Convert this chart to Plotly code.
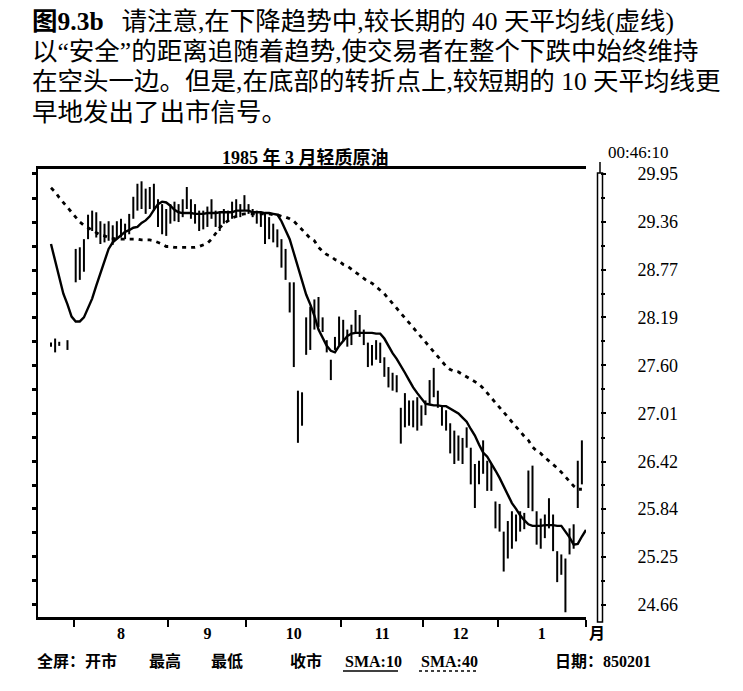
import plotly.graph_objects as go

# ---------------- data ----------------
# daily high / low of the March 1985 light crude contract (bar index = trading day)
bar_high = [27.88, 27.93, 27.89, None, 27.91, None, 29.03, 29.05, 29.15, 29.45,
            29.50, 29.48, 29.37, 29.34, 29.37, 29.32, 29.37, 29.40, 29.34, 29.46,
            29.67, 29.83, 29.86, 29.77, 29.79, 29.83, 29.64, 29.58, 29.52, 29.58,
            29.61, 29.58, 29.64, 29.79, 29.64, 29.58, 29.50, 29.50, 29.55, 29.64,
            29.50, 29.48, 29.52, 29.50, 29.61, 29.64, 29.58, 29.69, 29.58, 29.52,
            29.50, 29.48, 29.46, 29.42, 29.34, 29.27, 29.15, 29.03, 28.62, 28.62,
            27.29, 27.27, 28.19, 28.32, 28.41, 28.44, 28.19, 27.91, 27.67, 27.95,
            28.20, 28.16, 28.04, 28.10, 28.28, 28.22, 28.04, 27.88, 27.85, 27.91,
            27.88, 27.70, 27.58, 27.51, 27.48, 27.08, 27.26, 27.17, 27.17, 27.21,
            27.11, 27.17, 27.42, 27.57, 27.29, 27.11, 27.05, 26.89, 26.80, 26.74,
            26.71, 26.84, 26.59, 26.39, 26.43, 26.68, 26.43, 26.39, 25.93, 25.90,
            25.56, 25.69, 25.81, 25.77, 25.81, 25.79, 26.31, 26.37, 25.81, 25.72,
            25.77, 25.97, 25.77, 25.32, 25.28, 25.23, 25.60, 25.65, 26.43, 26.68]
bar_low = [27.83, 27.76, 27.84, None, 27.79, None, 28.62, 28.65, 28.75, 29.15,
           29.25, 29.17, 29.09, 29.11, 29.13, 29.08, 29.15, 29.17, 29.15, 29.21,
           29.40, 29.50, 29.52, 29.46, 29.52, 29.50, 29.30, 29.21, 29.19, 29.34,
           29.37, 29.36, 29.42, 29.52, 29.40, 29.34, 29.25, 29.27, 29.30, 29.40,
           29.30, 29.25, 29.34, 29.37, 29.40, 29.43, 29.42, 29.50, 29.46, 29.42,
           29.34, 29.30, 29.09, 29.15, 29.11, 29.05, 28.80, 28.65, 28.25, 27.58,
           26.65, 26.86, 27.73, 27.79, 28.04, 28.07, 28.01, 27.76, 27.42, 27.79,
           27.85, 27.89, 27.83, 27.85, 28.00, 27.95, 27.85, 27.58, 27.60, 27.67,
           27.63, 27.46, 27.33, 27.29, 27.27, 26.64, 26.84, 26.86, 26.84, 26.80,
           26.86, 26.99, 27.13, 27.21, 27.08, 26.86, 26.80, 26.52, 26.39, 26.43,
           26.39, 26.59, 26.14, 25.85, 26.14, 26.27, 26.06, 26.06, 25.60, 25.56,
           25.07, 25.23, 25.35, 25.44, 25.56, 25.59, 25.85, 25.81, 25.40, 25.35,
           25.48, 25.60, 25.32, 24.94, 25.03, 24.57, 25.28, 25.35, 25.85, 26.14]

# 10-day simple moving average (solid line)
sma10 = [29.09, 28.88, 28.68, 28.48, 28.35, 28.20, 28.14, 28.14, 28.19, 28.30,
         28.42, 28.58, 28.73, 28.88, 29.03, 29.11, 29.15, 29.20, 29.24, 29.26,
         29.29, 29.30, 29.35, 29.38, 29.43, 29.51, 29.58, 29.61, 29.60, 29.56,
         29.51, 29.48, 29.47, 29.47, 29.47, 29.46, 29.46, 29.46, 29.47, 29.47,
         29.47, 29.48, 29.48, 29.48, 29.48, 29.50, 29.50, 29.50, 29.50, 29.48,
         29.48, 29.48, 29.47, 29.47, 29.46, 29.45, 29.37, 29.27, 29.15, 28.98,
         28.80, 28.63, 28.47, 28.35, 28.21, 28.04, 27.93, 27.84, 27.78, 27.76,
         27.84, 27.90, 27.96, 27.99, 28.00, 28.00, 28.00, 28.00, 28.00, 27.99,
         27.99, 27.93, 27.83, 27.75, 27.68, 27.60, 27.51, 27.42, 27.33, 27.26,
         27.20, 27.13, 27.12, 27.11, 27.11, 27.10, 27.10, 27.07, 27.05, 27.01,
         26.96, 26.91, 26.82, 26.74, 26.63, 26.53, 26.48, 26.40, 26.31, 26.22,
         26.11, 26.00, 25.91, 25.84, 25.76, 25.70, 25.65, 25.63, 25.63, 25.63,
         25.64, 25.64, 25.64, 25.63, 25.63, 25.56, 25.49, 25.40, 25.41, 25.50,
         25.58]

# 40-day simple moving average (dotted line)
sma40 = [29.78, 29.73, 29.66, 29.60, 29.53, 29.47, 29.41, 29.36, 29.32, 29.29,
         29.26, 29.22, 29.20, 29.19, 29.17, 29.16, 29.15, 29.15, 29.15, 29.15,
         29.15, 29.15, 29.14, 29.14, 29.14, 29.13, 29.11, 29.09, 29.06, 29.06,
         29.05, 29.05, 29.05, 29.05, 29.05, 29.05, 29.06, 29.08, 29.10, 29.15,
         29.22, 29.29, 29.34, 29.38, 29.41, 29.43, 29.45, 29.46, 29.46, 29.46,
         29.46, 29.46, 29.46, 29.46, 29.45, 29.45, 29.43, 29.42, 29.40, 29.37,
         29.32, 29.27, 29.21, 29.16, 29.13, 29.05, 29.00, 28.96, 28.94, 28.90,
         28.88, 28.84, 28.82, 28.78, 28.74, 28.70, 28.67, 28.63, 28.61, 28.57,
         28.53, 28.48, 28.42, 28.36, 28.31, 28.25, 28.19, 28.12, 28.06, 28.00,
         27.95, 27.88, 27.83, 27.76, 27.70, 27.64, 27.59, 27.55, 27.53, 27.52,
         27.49, 27.46, 27.42, 27.39, 27.37, 27.32, 27.26, 27.21, 27.15, 27.08,
         27.02, 26.97, 26.91, 26.84, 26.78, 26.73, 26.68, 26.60, 26.55, 26.52,
         26.47, 26.43, 26.38, 26.34, 26.29, 26.23, 26.17, 26.12, 26.08, 26.08]

price_ticks = [29.95, 29.36, 28.77, 28.19, 27.60, 27.01, 26.42, 25.84, 25.25, 24.66]
price_tick_text = ["29.95", "29.36", "28.77", "28.19", "27.60",
                   "27.01", "26.42", "25.84", "25.25", "24.66"]

# month boundaries in bar-index units and the month labels between them
month_edges = [5.5, 28.5, 47.5, 70.5, 90.5, 108.5, 130.0]
month_labels = ["8", "9", "10", "11", "12", "1"]

title_text = "1985 年 3 月轻质原油"
caption_lines = [
    "<b>图9.3b</b>\u2002\u2009请注意,在下降趋势中,较长期的 40 天平均线(虚线)",
    "以“安全”的距离追随着趋势,使交易者在整个下跌中始终维持",
    "在空头一边。但是,在底部的转折点上,较短期的 10 天平均线更",
    "早地发出了出市信号。",
]

# ---------------- layout geometry (pixels) ----------------
W, H = 743, 691
ML, MR, MT, MB = 38, 143, 169, 74
PW, PH = W - ML - MR, H - MT - MB


def px_x(p):
    return (p - ML) / PW


def px_y(p):
    return (H - MB - p) / PH


SERIF_CJK = "Liberation Serif, Noto Sans CJK SC"
X_RANGE = [-3.16, 130.0]
Y_RANGE = [24.512, 30.011]

# ---------------- traces ----------------
seg_x, seg_y = [], []
for i, (hi, lo) in enumerate(zip(bar_high, bar_low)):
    if hi is None or lo is None:
        continue
    seg_x += [i, i, None]
    seg_y += [lo, hi, None]

fig = go.Figure()
fig.add_trace(go.Scatter(x=seg_x, y=seg_y, mode="lines",
                         line=dict(color="black", width=2),
                         hoverinfo="skip", xaxis="x", yaxis="y"))
fig.add_trace(go.Scatter(x=list(range(len(sma40))), y=sma40, mode="lines",
                         line=dict(color="black", width=2.8, dash="4px,5px"),
                         xaxis="x2", yaxis="y2", name="SMA:40"))
fig.add_trace(go.Scatter(x=list(range(len(sma10))), y=sma10, mode="lines",
                         line=dict(color="black", width=2.4),
                         xaxis="x2", yaxis="y2", name="SMA:10"))

month_mid = [(a + b) / 2 for a, b in zip(month_edges[:-1], month_edges[1:])]
minor_vals = [(a + b) / 2 for a, b in zip(price_ticks[:-1], price_ticks[1:])]

fig.update_layout(
    width=W, height=H,
    margin=dict(l=ML, r=MR, t=MT, b=MB, pad=0),
    paper_bgcolor="white", plot_bgcolor="white",
    showlegend=False,
    xaxis=dict(domain=[0, (586 - ML) / PW], range=X_RANGE, showgrid=False, zeroline=False,
               showline=True, linecolor="black", linewidth=3, mirror=True,
               ticks="outside", tickvals=month_edges, ticklen=7, tickwidth=1.5,
               tickcolor="black", showticklabels=False, fixedrange=True),
    xaxis2=dict(overlaying="x", anchor="y", side="bottom", range=X_RANGE,
                showgrid=False, zeroline=False, showline=False, ticks="",
                tickvals=month_mid, ticktext=month_labels,
                tickfont=dict(family="Liberation Serif", size=16, color="black",
                              weight="bold"),
                ticklabelstandoff=5),
    yaxis=dict(range=Y_RANGE, showgrid=False, zeroline=False, showline=True,
               linecolor="black", linewidth=2, ticks="outside", ticklen=4, tickwidth=2.5,
               tickcolor="black", tickvals=price_ticks, showticklabels=False,
               minor=dict(tickvals=minor_vals, ticks="outside", ticklen=4, tickwidth=2.5,
                          tickcolor="black")),
    yaxis2=dict(overlaying="y", anchor="free", position=1.0, side="right", range=Y_RANGE,
                showgrid=False, zeroline=False, showline=False, ticks="outside",
                ticklen=5, tickwidth=2, tickcolor="black",
                tickvals=price_ticks, ticktext=price_tick_text,
                tickfont=dict(family="Liberation Serif", size=18, color="black"),
                ticklabelstandoff=28,
                minor=dict(tickvals=minor_vals, ticks="outside", ticklen=4, tickwidth=2,
                           tickcolor="black")),
)

annotations = []
for k, line in enumerate(caption_lines):
    annotations.append(dict(text=line, xref="paper", yref="paper",
                            x=px_x(30), y=px_y(21 + 30.5 * k), xanchor="left", yanchor="middle",
                            showarrow=False, font=dict(family=SERIF_CJK, size=25.5, color="black")))
annotations.append(dict(text="<b>" + title_text + "</b>", xref="paper", yref="paper",
                        x=px_x(305), y=px_y(157), xanchor="center", yanchor="middle",
                        showarrow=False, font=dict(family=SERIF_CJK, size=18, color="black")))
annotations.append(dict(text="00:46:10", xref="paper", yref="paper",
                        x=px_x(607), y=px_y(153), xanchor="left", yanchor="middle",
                        showarrow=False, borderpad=0,
                        font=dict(family="Liberation Serif", size=17, color="black")))
annotations.append(dict(text="<b>月</b>", xref="paper", yref="paper",
                        x=px_x(597), y=px_y(633), xanchor="center", yanchor="middle",
                        showarrow=False, font=dict(family=SERIF_CJK, size=16, color="black")))
footer = [("全屏：开市", 35), ("最高", 147), ("最低", 209), ("收市", 288),
          ("SMA:10", 343), ("SMA:40", 419), ("日期：850201", 553)]
for txt, xp in footer:
    annotations.append(dict(text="<b>" + txt + "</b>", xref="paper", yref="paper",
                            x=px_x(xp), y=px_y(661), xanchor="left", yanchor="middle",
                            showarrow=False, font=dict(family=SERIF_CJK, size=16, color="black")))
fig.update_layout(annotations=annotations)

shapes = [
    # right price-scale bar
    dict(type="rect", xref="paper", yref="paper", x0=px_x(597.5), x1=px_x(602.5),
         y0=px_y(622), y1=px_y(173), line=dict(color="black", width=1.5)),
    dict(type="line", xref="paper", yref="paper", x0=px_x(600), x1=px_x(600),
         y0=px_y(173), y1=px_y(162), line=dict(color="black", width=1.5)),
    # legend underlines in the footer
    dict(type="line", xref="paper", yref="paper", x0=px_x(343), x1=px_x(398),
         y0=px_y(671), y1=px_y(671), line=dict(color="black", width=1.5)),
    dict(type="line", xref="paper", yref="paper", x0=px_x(419), x1=px_x(478),
         y0=px_y(671), y1=px_y(671), line=dict(color="black", width=1.5, dash="3px,3px")),
]
fig.update_layout(shapes=shapes)

# the page's default 8px body margin would offset the figure; remove it
fig.write_html("out.html", config={"displayModeBar": False},
               post_script="document.body.style.margin='0px';document.body.style.padding='0px';")
